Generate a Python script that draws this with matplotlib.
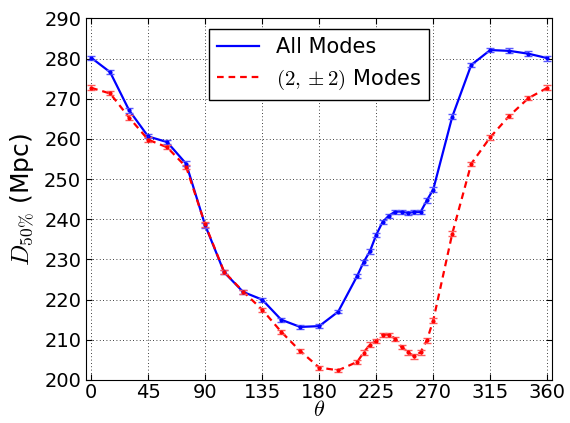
import matplotlib
matplotlib.use('Agg')
import matplotlib.pyplot as plt

#---- Data -------------------------------------------------------------------#

theta = [0, 15, 30, 45, 60, 75, 90, 105, 120, 135, 150, 165, 180, 195,
         210, 215, 220, 225, 230, 235, 240, 245, 250, 255, 260, 265, 270,
         285, 300, 315, 330, 345, 360]

d_all = [280.2, 276.6, 267.1, 260.6, 259.2, 253.8, 238.5, 226.8, 221.9,
         220.0, 215.0, 213.2, 213.4, 217.0, 225.9, 229.3, 232.0, 236.1,
         239.3, 240.9, 241.9, 241.9, 241.6, 241.8, 241.8, 244.7, 247.4,
         265.5, 278.4, 282.1, 281.9, 281.2, 280.1]
err_all = [0.5, 0.5, 0.6, 0.5, 0.5, 0.6, 0.6, 0.5, 0.5, 0.5, 0.5, 0.5,
           0.5, 0.4, 0.5, 0.6, 0.6, 0.6, 0.6, 0.5, 0.5, 0.5, 0.5, 0.5,
           0.5, 0.6, 0.6, 0.6, 0.5, 0.6, 0.6, 0.6, 0.6]

d_22 = [272.7, 271.3, 265.3, 259.8, 257.9, 253.0, 238.7, 226.9, 222.0,
        217.5, 212.0, 207.2, 203.1, 202.4, 204.5, 206.8, 208.8, 209.7,
        211.3, 211.3, 210.3, 208.2, 206.9, 205.9, 206.9, 209.9, 214.8,
        236.4, 253.8, 260.4, 265.7, 270.1, 272.7]
err_22 = [0.6, 0.5, 0.6, 0.6, 0.5, 0.6, 0.6, 0.5, 0.5, 0.5, 0.5, 0.5,
          0.5, 0.4, 0.5, 0.6, 0.6, 0.5, 0.5, 0.5, 0.5, 0.6, 0.6, 0.6,
          0.6, 0.6, 0.6, 0.6, 0.5, 0.6, 0.5, 0.5, 0.6]

xticks = [0, 45, 90, 135, 180, 225, 270, 315, 360]

#---- Plotting ---------------------------------------------------------------#

plt.rcParams['mathtext.fontset'] = 'cm'

fig = plt.figure(figsize=(5.7, 4.23), dpi=100)
ax = fig.add_axes([0.151, 0.1017, 0.818, 0.855])

ax.plot(theta, d_all, 'b-', lw=1.6, label='All Modes')
ax.errorbar(theta, d_all, yerr=err_all, fmt='.', color='b', ms=4,
            ecolor=(0.35, 0.35, 1.0), capsize=3, elinewidth=1, capthick=1)

ax.plot(theta, d_22, 'r--', lw=1.6, dashes=(3, 2.2), label=r'$(2,\pm 2)$ Modes')
ax.errorbar(theta, d_22, yerr=err_22, fmt='.', color='r', ms=4,
            ecolor=(1.0, 0.35, 0.35), capsize=3, elinewidth=1, capthick=1)

ax.set_xlim(-4, 364)
ax.set_ylim(200, 290)
ax.set_xticks(xticks)
ax.tick_params(direction='in', top=True, right=True, length=4, labelsize=14)
ax.tick_params(axis='x', pad=2)
ax.grid(True, color='k', linestyle=(0, (1, 3)), linewidth=0.6)

ax.set_xlabel(r'$\theta$', fontsize=16, labelpad=-1)
ax.set_ylabel(r'$D_{50\%}$ (Mpc)', fontsize=18, labelpad=6)

leg = ax.legend(loc='upper center', fontsize=15, fancybox=False,
                framealpha=1, edgecolor='k', handlelength=2)
leg.get_frame().set_linewidth(1)

plt.savefig('out.png', dpi=100)
